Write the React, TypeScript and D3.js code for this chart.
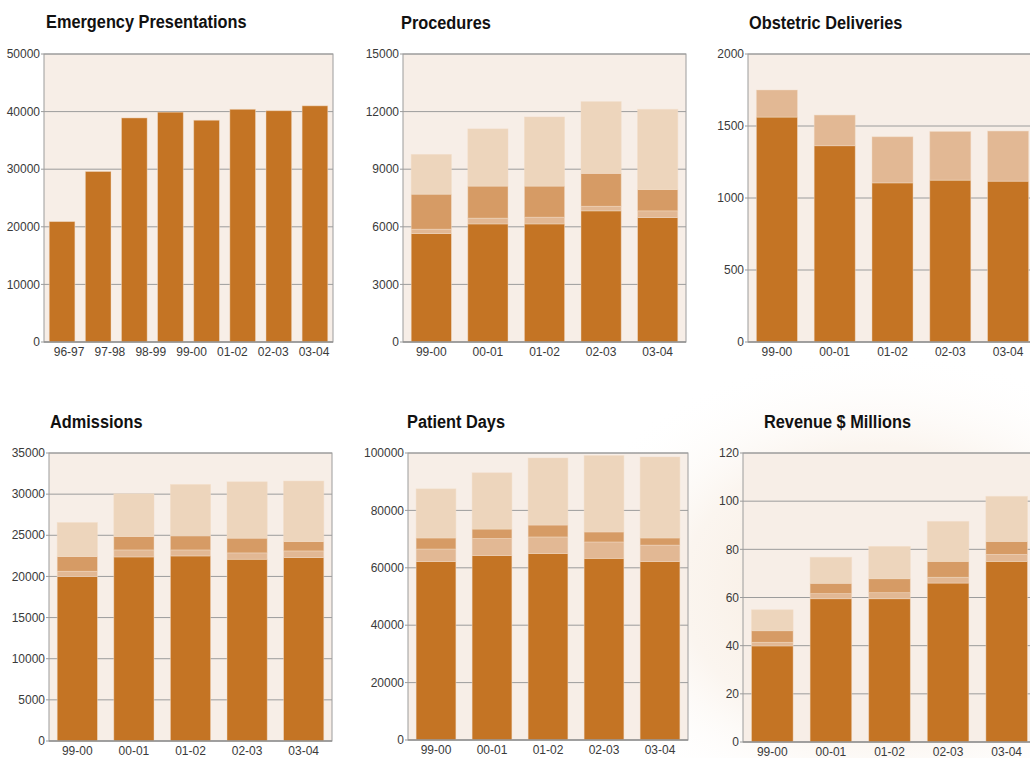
import * as d3 from "d3";

// ---- data ----
const years = ["99-00", "00-01", "01-02", "02-03", "03-04"];

const emergencyYears = ["96-97", "97-98", "98-99", "99-00", "00-01", "01-02", "02-03", "03-04"];
const emergencyLabels = ["96-97", "97-98", "98-99", "99-00", "01-02", "02-03", "03-04"];
const emergencyValues = [20900, 29600, 38900, 39900, 38500, 40400, 40150, 41000];

const procDark = [5650, 6150, 6150, 6830, 6480];
const procLight = [225, 300, 350, 240, 350];
const procMid = [1825, 1670, 1620, 1710, 1110];
const procPale = [2070, 2980, 3600, 3740, 4180];

const obstDark = [1562, 1363, 1105, 1124, 1117];
const obstLight = [188, 213, 320, 338, 348];

const admDark = [19980, 22370, 22490, 22090, 22290];
const admLight = [650, 850, 730, 770, 810];
const admMid = [1780, 1630, 1710, 1790, 1140];
const admPale = [4140, 5200, 6250, 6850, 7350];

const daysDark = [62200, 64300, 65000, 63300, 62200];
const daysLight = [4350, 5900, 5750, 5700, 5700];
const daysMid = [3850, 3300, 4150, 3500, 2500];
const daysPale = [17100, 19600, 23350, 26600, 28200];

const revDark = [39.9, 59.5, 59.5, 66.0, 75.0];
const revLight = [1.5, 2.1, 2.5, 2.4, 2.9];
const revMid = [4.8, 4.3, 5.8, 6.6, 5.4];
const revPale = [8.7, 10.8, 13.4, 16.6, 18.7];

const DARK = "#c47424";
const LIGHT = "#e2b894";
const MID = "#d69b65";
const PALE = "#edd5bc";

interface PanelSpec {
  title: string;
  titleX: number;
  titleY: number;
  box: { x: number; y: number; w: number; h: number };
  max: number;
  step: number;
  cats: string[];
  labels: string[];
  series: number[][];
  colors: string[];
}

const panels: PanelSpec[] = [
  {
    title: "Emergency Presentations",
    titleX: 46, titleY: 28,
    box: { x: 44, y: 54, w: 289, h: 288 },
    max: 50000, step: 10000,
    cats: emergencyYears, labels: emergencyLabels,
    series: [emergencyValues], colors: [DARK],
  },
  {
    title: "Procedures",
    titleX: 401, titleY: 29,
    box: { x: 403, y: 54, w: 283, h: 288 },
    max: 15000, step: 3000,
    cats: years, labels: years,
    series: [procDark, procLight, procMid, procPale], colors: [DARK, LIGHT, MID, PALE],
  },
  {
    title: "Obstetric Deliveries",
    titleX: 749, titleY: 29,
    box: { x: 748, y: 54, w: 289, h: 288 },
    max: 2000, step: 500,
    cats: years, labels: years,
    series: [obstDark, obstLight], colors: [DARK, LIGHT],
  },
  {
    title: "Admissions",
    titleX: 50, titleY: 428,
    box: { x: 49, y: 453, w: 283, h: 288 },
    max: 35000, step: 5000,
    cats: years, labels: years,
    series: [admDark, admLight, admMid, admPale], colors: [DARK, LIGHT, MID, PALE],
  },
  {
    title: "Patient Days",
    titleX: 407, titleY: 428,
    box: { x: 408, y: 453, w: 280, h: 287 },
    max: 100000, step: 20000,
    cats: years, labels: years,
    series: [daysDark, daysLight, daysMid, daysPale], colors: [DARK, LIGHT, MID, PALE],
  },
  {
    title: "Revenue $ Millions",
    titleX: 764, titleY: 428,
    box: { x: 743, y: 453, w: 293, h: 289 },
    max: 120, step: 20,
    cats: years, labels: years,
    series: [revDark, revLight, revMid, revPale], colors: [DARK, LIGHT, MID, PALE],
  },
];

const tickFont = "'Liberation Sans', Arial, sans-serif";

function Panel({ p }: { p: PanelSpec }) {
  const { x, y, w, h } = p.box;
  const yScale = d3.scaleLinear().domain([0, p.max]).range([h, 0]);
  const xScale = d3.scaleBand<string>().domain(p.cats).range([0, w]).paddingInner(0.29).paddingOuter(0.145);
  const ticks = d3.range(0, p.max + p.step / 2, p.step);

  // label positions: same as bars unless the label list is shorter (Emergency chart)
  const labelPos =
    p.labels.length === p.cats.length
      ? (l: string) => xScale(l)! + xScale.bandwidth() / 2
      : (() => {
          const s = d3.scalePoint<string>().domain(p.labels).range([0, w]).padding(0.54).align(0.57);
          return (l: string) => s(l)!;
        })();

  const rows = p.cats.map((c, i) => {
    const r: Record<string, number | string> = { cat: c };
    p.series.forEach((s, k) => (r["s" + k] = s[i]));
    return r;
  });
  const stack = d3.stack<Record<string, number | string>>().keys(p.series.map((_, k) => "s" + k));
  const layers = stack(rows as any);

  return (
    <g transform={`translate(${x},${y})`}>
      {/* condensed bold title: no narrow font installed, so squeeze horizontally */}
      <text
        transform={`translate(${p.titleX - x},${p.titleY - y}) scale(0.86,1)`}
        fontFamily="'Liberation Sans', Arial, sans-serif"
        fontWeight="bold"
        fontSize={19}
        fill="#111"
      >
        {p.title}
      </text>
      <rect x={0} y={0} width={w} height={h} fill="#f7eee7" />
      {ticks.map((t) => (
        <g key={t}>
          <line x1={-3} x2={w} y1={yScale(t)} y2={yScale(t)} stroke="#9c9c9c" strokeWidth={1} />
          <text x={-4} y={yScale(t)} dy="0.35em" textAnchor="end" fontFamily={tickFont} fontSize={12} fill="#3a3a3a">
            {t}
          </text>
        </g>
      ))}
      {layers.map((layer, k) => (
        <g key={k} fill={p.colors[k]}>
          {layer.map((d, i) => (
            <rect
              key={i}
              x={xScale(p.cats[i])}
              width={xScale.bandwidth()}
              y={yScale(d[1])}
              height={yScale(d[0]) - yScale(d[1])}
              stroke="#f2dcc6"
              strokeOpacity={0.55}
              strokeWidth={0.8}
            />
          ))}
        </g>
      ))}
      <rect x={0} y={0} width={w} height={h} fill="none" stroke="#9c9c9c" strokeWidth={1} />
      <line x1={0} x2={w} y1={h} y2={h} stroke="#8c8c8c" strokeWidth={1.2} />
      {p.labels.map((l) => (
        <text key={l} x={labelPos(l)} y={h + 14} textAnchor="middle" fontFamily={tickFont} fontSize={12} fill="#3a3a3a">
          {l}
        </text>
      ))}
    </g>
  );
}

export default function App() {
  return (
    <svg
      width={1030}
      height={758}
      style={{ position: "absolute", left: 0, top: 0, display: "block", background: "#fff" }}
    >
      <defs>
        <radialGradient id="wm" cx="0.5" cy="0.5" r="0.5">
          <stop offset="0%" stopColor="#f3e2cf" stopOpacity={0.8} />
          <stop offset="60%" stopColor="#f6e9dc" stopOpacity={0.45} />
          <stop offset="100%" stopColor="#ffffff" stopOpacity={0} />
        </radialGradient>
      </defs>
      <ellipse cx={880} cy={590} rx={330} ry={240} fill="url(#wm)" />
      {panels.map((p) => (
        <Panel key={p.title} p={p} />
      ))}
    </svg>
  );
}
